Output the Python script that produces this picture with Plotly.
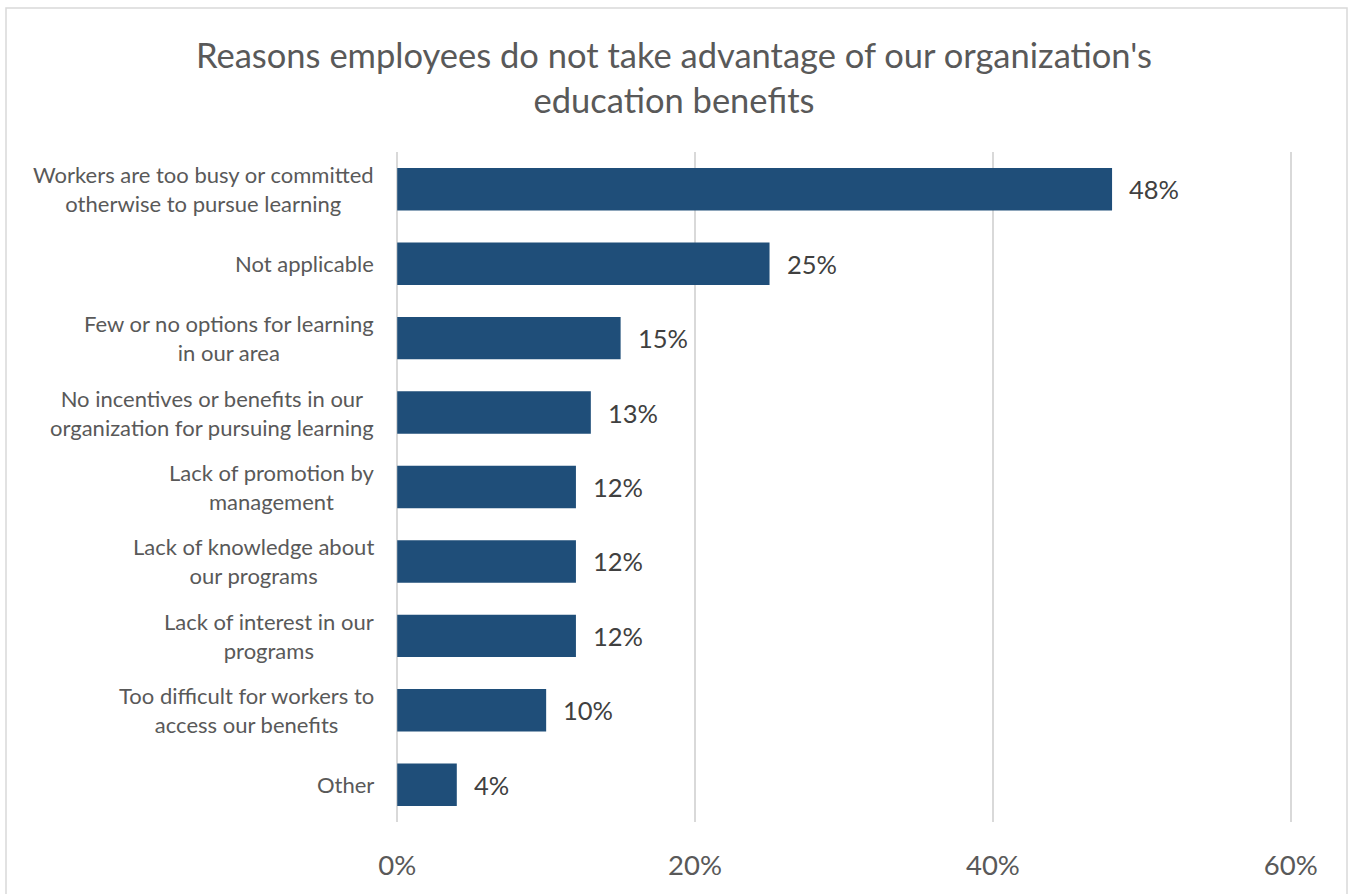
import plotly.graph_objects as go

# Survey responses, listed top to bottom as displayed
reasons = [
    "Workers are too busy or committed<br>otherwise to pursue learning",
    "Not applicable",
    "Few or no options for learning<br>in our area",
    "No incentives or benefits in our<br>organization for pursuing learning",
    "Lack of promotion by<br>management",
    "Lack of knowledge about<br>our programs",
    "Lack of interest in our<br>programs",
    "Too difficult for workers to<br>access our benefits",
    "Other",
]
shares = [48, 25, 15, 13, 12, 12, 12, 10, 4]

x_ticks = [0, 20, 40, 60]
x_tick_text = ["0%", "20%", "40%", "60%"]

FONT = "Lato"
BAR = "#1f4e79"
GREY = "#595959"
GRID = "#d9d9d9"

fig = go.Figure(
    go.Bar(
        x=shares,
        y=reasons,
        orientation="h",
        marker=dict(color=BAR, line=dict(width=0)),
        width=0.57,
        hoverinfo="skip",
    )
)

# Value labels next to each bar end
for r, v in zip(reasons, shares):
    fig.add_annotation(
        x=v, y=r, xref="x", yref="y",
        text=f"{v}%", showarrow=False,
        xanchor="left", xshift=15,
        font=dict(family=FONT, size=25.5, color="#404040"),
    )

W, H = 1348, 894
L, R, T, B = 395, 55, 152, 72
pw, ph = W - L - R, H - T - B
XMIN, XMAX = -0.15, 60.15
x0_px = L + (0 - XMIN) / (XMAX - XMIN) * pw  # pixel position of 0%

# Category labels, centred line by line, right-aligned against the axis
for r in reasons:
    fig.add_annotation(
        x=0, y=r, xref="x", yref="y",
        text=r, showarrow=False,
        xanchor="right", xshift=-21, align="center",
        font=dict(family=FONT, size=22, color=GREY),
    )

# Light frame around the whole chart
fig.add_shape(
    type="rect", xref="paper", yref="paper",
    x0=(6 - L) / pw, x1=(1347 - L) / pw,
    y0=(H - B - 905) / ph, y1=(H - B - 8) / ph,
    line=dict(color=GRID, width=1.5), fillcolor="rgba(0,0,0,0)",
)

fig.update_layout(
    width=W, height=H,
    margin=dict(l=L, r=R, t=T, b=B),
    paper_bgcolor="white", plot_bgcolor="white",
    showlegend=False,
    title=dict(
        text="Reasons employees do not take advantage of our organization's<br>education benefits",
        x=0.5, xanchor="center", y=1 - 68 / H, yanchor="middle",
        font=dict(family=FONT, size=34.5, color=GREY),
    ),
    xaxis=dict(
        range=[XMIN, XMAX], tickvals=x_ticks, ticktext=x_tick_text,
        showgrid=True, gridcolor=GRID, gridwidth=1.5,
        zeroline=True, zerolinecolor=GRID, zerolinewidth=1.5,
        showline=False, ticks="",
        ticklabelstandoff=24,
        tickfont=dict(family=FONT, size=27.5, color=GREY),
        fixedrange=True,
    ),
    yaxis=dict(
        autorange="reversed", showticklabels=False,
        showgrid=False, zeroline=False, showline=False, ticks="",
        fixedrange=True,
    ),
    font=dict(family=FONT, color=GREY),
)

fig.write_html("out.html")
